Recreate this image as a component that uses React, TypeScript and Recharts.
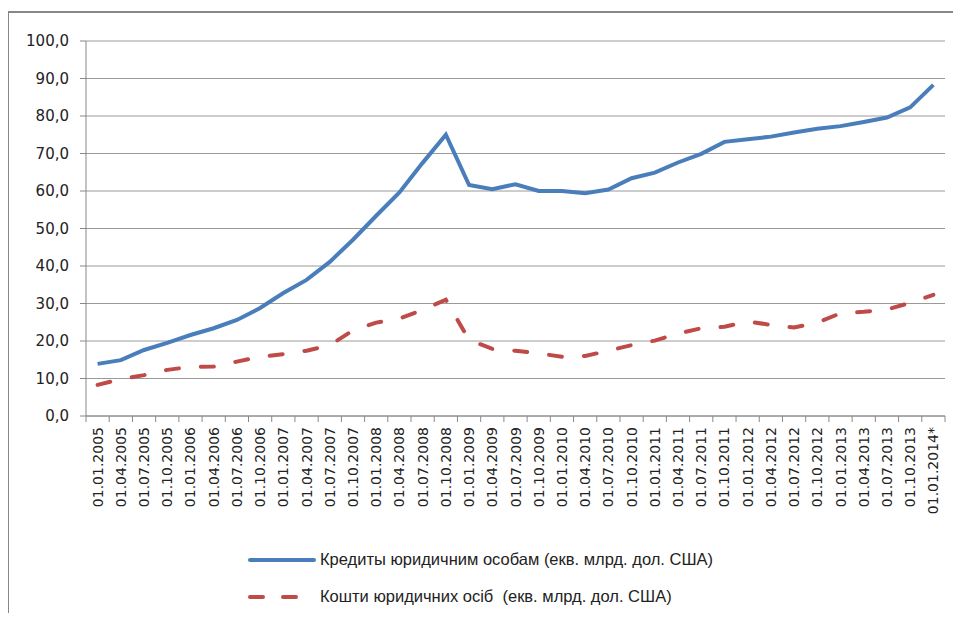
import { LineChart, Line, XAxis, YAxis, CartesianGrid, Legend } from "recharts";

const dates = [
  "01.01.2005", "01.04.2005", "01.07.2005", "01.10.2005",
  "01.01.2006", "01.04.2006", "01.07.2006", "01.10.2006",
  "01.01.2007", "01.04.2007", "01.07.2007", "01.10.2007",
  "01.01.2008", "01.04.2008", "01.07.2008", "01.10.2008",
  "01.01.2009", "01.04.2009", "01.07.2009", "01.10.2009",
  "01.01.2010", "01.04.2010", "01.07.2010", "01.10.2010",
  "01.01.2011", "01.04.2011", "01.07.2011", "01.10.2011",
  "01.01.2012", "01.04.2012", "01.07.2012", "01.10.2012",
  "01.01.2013", "01.04.2013", "01.07.2013", "01.10.2013",
  "01.01.2014*",
];

// кредити юридичним особам
const credits = [
  13.9, 14.9, 17.6, 19.5, 21.6, 23.4, 25.6, 28.8,
  32.8, 36.3, 41.1, 47.0, 53.4, 59.6, 67.5, 75.0,
  61.6, 60.5, 61.8, 60.0, 60.0, 59.4, 60.4, 63.4,
  64.9, 67.6, 69.9, 73.1, 73.8, 74.5, 75.6, 76.6,
  77.3, 78.4, 79.6, 82.3, 88.3,
];

// кошти юридичних осіб
const deposits = [
  8.3, 9.8, 10.9, 12.3, 13.1, 13.2, 14.5, 15.8,
  16.5, 17.4, 18.9, 22.8, 24.9, 26.0, 28.3, 31.0,
  20.3, 17.9, 17.4, 16.7, 15.8, 16.0, 17.4, 18.9,
  20.1, 22.0, 23.4, 23.8, 25.2, 24.3, 23.6, 24.9,
  27.4, 27.8, 28.4, 30.2, 32.3,
];

const yTicks = [0, 10, 20, 30, 40, 50, 60, 70, 80, 90, 100];

const seriesNames = [
  "Кредиты юридичним особам (екв. млрд. дол. США)",
  "Кошти юридичних осіб  (екв. млрд. дол. США)",
];

const data = dates.map((d, i) => ({ date: d, credits: credits[i], deposits: deposits[i] }));

const BLUE = "#4a7ebb";
const RED = "#be4b48";
const AXIS = "#888888";
const BAND = (945 - 86) / dates.length;

const XTick = (props: any) => {
  const { x, y, payload, index } = props;
  return (
    <g transform={`translate(${x},${y})`}>
      <line x1={-BAND / 2} x2={-BAND / 2} y1={0} y2={6} stroke={AXIS} />
      {index === dates.length - 1 && <line x1={BAND / 2} x2={BAND / 2} y1={0} y2={6} stroke={AXIS} />}
      <text
        transform="rotate(-90)"
        x={-11}
        y={0}
        dy={5}
        textAnchor="end"
        fontSize={14}
        fontFamily="DejaVu Sans"
        fill="#222"
      >
        {payload.value}
      </text>
    </g>
  );
};

const renderLegend = () => (
  <div style={{ fontFamily: "Liberation Sans", fontSize: 16.5, color: "#222", whiteSpace: "pre" }}>
    <div style={{ display: "flex", alignItems: "center", height: 37 }}>
      <svg width={72} height={10}>
        <line x1={2} x2={66} y1={5} y2={5} stroke={BLUE} strokeWidth={4} strokeLinecap="round" />
      </svg>
      <span>{seriesNames[0]}</span>
    </div>
    <div style={{ display: "flex", alignItems: "center", height: 37 }}>
      <svg width={72} height={10}>
        <line x1={2} x2={66} y1={5} y2={5} stroke={RED} strokeWidth={4} strokeLinecap="round" strokeDasharray="13 20" />
      </svg>
      <span>{seriesNames[1]}</span>
    </div>
  </div>
);

export default function App() {
  return (
    <div style={{ margin: -8, width: 961, height: 621, position: "relative", overflow: "hidden", background: "#fff" }}>
      <div
        style={{
          position: "absolute",
          left: 7,
          top: 11,
          width: 980,
          height: 640,
          borderTop: "2px solid #878787",
          borderLeft: "2px solid #878787",
        }}
      />
      <LineChart width={961} height={621} data={data} margin={{ top: 41, right: 16, bottom: 93, left: 0 }}>
        <CartesianGrid horizontal vertical={false} stroke="#9a9a9a" />
        <XAxis
          dataKey="date"
          interval={0}
          height={112}
          tickSize={0}
          tickMargin={0}
          tick={<XTick />}
          stroke={AXIS}
          padding={{ left: BAND / 2, right: BAND / 2 }}
        />
        <YAxis
          width={86}
          domain={[0, 100]}
          ticks={yTicks}
          interval={0}
          tickSize={6}
          tickMargin={11}
          stroke={AXIS}
          tickFormatter={(v: number) => v.toFixed(1).replace(".", ",")}
          tick={{ fill: "#222", fontSize: 15, fontFamily: "DejaVu Sans" }}
        />
        <Legend
          layout="horizontal"
          verticalAlign="middle"
          align="center"
          content={renderLegend}
          wrapperStyle={{ left: 248, top: 541, width: 560 }}
        />
        <Line
          dataKey="credits"
          name={seriesNames[0]}
          stroke={BLUE}
          strokeWidth={4}
          dot={false}
          isAnimationActive={false}
        />
        <Line
          dataKey="deposits"
          name={seriesNames[1]}
          stroke={RED}
          strokeWidth={4}
          strokeDasharray="13 22"
          strokeLinecap="round"
          dot={false}
          isAnimationActive={false}
        />
      </LineChart>
    </div>
  );
}
